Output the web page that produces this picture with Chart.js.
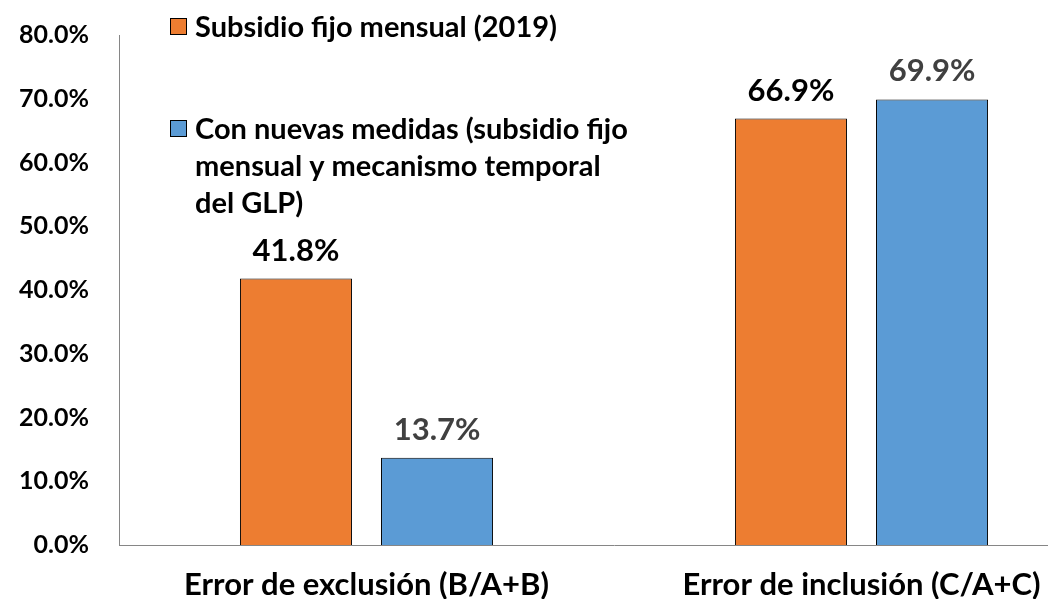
<!DOCTYPE html>
<html>
<head>
<meta charset="utf-8">
<script src="https://cdn.jsdelivr.net/npm/chart.js@4"></script>
<style>
    body { margin: 0; overflow: hidden; background: #fff; }
    #wrap { position: absolute; left: 0; top: 0; width: 1120px; height: 599px; }
</style>
</head>
<body>
<div id="wrap"><canvas id="chart1"></canvas></div>
<script>
var categories = ['Error de exclusión (B/A+B)', 'Error de inclusión (C/A+C)'];
var seriesNames = ['Subsidio fijo mensual (2019)', 'Con nuevas medidas (subsidio fijo mensual y mecanismo temporal del GLP)'];
var subsidioFijo = [41.8, 66.9];
var nuevasMedidas = [13.7, 69.9];
var yTicks = [0, 10, 20, 30, 40, 50, 60, 70, 80];

var FONT = 'Lato';

// etiquetas encima de cada barra
var barLabels = {
    id: 'barLabels',
    afterDatasetsDraw: function (chart) {
        var ctx = chart.ctx;
        ctx.save();
        ctx.font = 'bold 31px ' + FONT;
        ctx.textAlign = 'center';
        ctx.textBaseline = 'middle';
        chart.data.datasets.forEach(function (ds, i) {
            ctx.fillStyle = ds.labelColor;
            chart.getDatasetMeta(i).data.forEach(function (bar, j) {
                ctx.fillText(ds.data[j].toFixed(1) + '%', bar.x, bar.y - 28);
            });
        });
        ctx.restore();
    }
};

// leyenda dentro del area del grafico
var insideLegend = {
    id: 'insideLegend',
    afterDraw: function (chart) {
        var ctx = chart.ctx;
        var tops = [18, 120];
        ctx.save();
        ctx.font = 'bold 29px ' + FONT;
        ctx.textBaseline = 'middle';
        ctx.textAlign = 'left';
        chart.data.datasets.forEach(function (ds, i) {
            var top = tops[i];
            ctx.fillStyle = ds.backgroundColor;
            ctx.fillRect(170, top, 16, 16);
            ctx.strokeStyle = '#000';
            ctx.lineWidth = 1;
            ctx.strokeRect(170.5, top + 0.5, 16, 16);
            // partir el texto en lineas
            var words = ds.label.split(' ');
            var lines = [];
            var line = '';
            words.forEach(function (w) {
                var test = line ? line + ' ' + w : w;
                if (ctx.measureText(test).width > 448 && line) {
                    lines.push(line);
                    line = w;
                } else {
                    line = test;
                }
            });
            lines.push(line);
            ctx.fillStyle = '#000';
            lines.forEach(function (l, k) {
                ctx.fillText(l, 195, top + 10 + k * 37);
            });
        });
        ctx.restore();
    }
};

function draw() {
    var ctx = document.getElementById('chart1').getContext('2d');
    new Chart(ctx, {
        type: 'bar',
        data: {
            labels: categories,
            datasets: [{
                label: seriesNames[0],
                data: subsidioFijo,
                backgroundColor: '#ED7D31',
                borderColor: '#000',
                borderWidth: 1,
                labelColor: '#000'
            }, {
                label: seriesNames[1],
                data: nuevasMedidas,
                backgroundColor: '#5B9BD5',
                borderColor: '#000',
                borderWidth: 1,
                labelColor: '#404040'
            }]
        },
        options: {
            responsive: true,
            maintainAspectRatio: false,
            animation: false,
            categoryPercentage: 0.57,
            barPercentage: 0.794,
            layout: { padding: { top: 35, right: 11, left: 0, bottom: 0 } },
            plugins: {
                legend: { display: false },
                tooltip: { enabled: false }
            },
            scales: {
                x: {
                    grid: { display: false, drawTicks: false },
                    border: { display: true, color: '#868686', width: 1 },
                    ticks: { color: '#000', font: { family: FONT, size: 31, weight: 'bold' }, padding: 21, maxRotation: 0 },
                    afterFit: function (s) { s.height = 54; }
                },
                y: {
                    min: 0,
                    max: 80,
                    afterBuildTicks: function (s) {
                        s.ticks = yTicks.map(function (v) { return { value: v }; });
                    },
                    grid: { display: false, drawTicks: false },
                    border: { display: true, color: '#868686', width: 1 },
                    ticks: {
                        color: '#000',
                        font: { family: FONT, size: 25, weight: 'bold' },
                        padding: 30,
                        callback: function (v) { return v.toFixed(1) + '%'; }
                    },
                    afterFit: function (s) {
                        s.width = 119;
                        s.paddingTop = 0;
                        s.paddingBottom = 0;
                    }
                }
            }
        },
        plugins: [barLabels, insideLegend]
    });
}

document.fonts.load('bold 25px ' + FONT).then(draw, draw);
</script>
</body>
</html>
